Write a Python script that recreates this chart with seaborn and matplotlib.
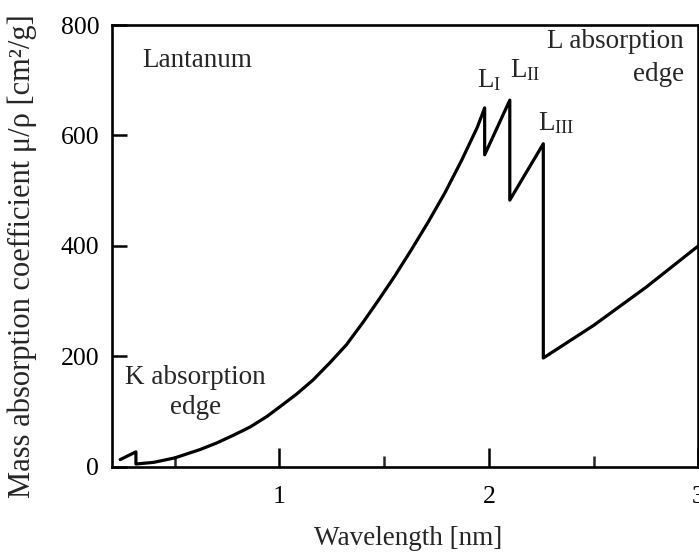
import numpy as np
import pandas as pd
import matplotlib
matplotlib.use("Agg")
import matplotlib.pyplot as plt
import seaborn as sns

# Mass absorption coefficient of lanthanum vs wavelength (K and L edges)
wavelength_nm = [0.24, 0.315, 0.315, 0.40, 0.50, 0.62, 0.70, 0.78, 0.86, 0.94,
                 1.00, 1.08, 1.16, 1.24, 1.32, 1.40, 1.47, 1.55, 1.63, 1.71,
                 1.79, 1.87, 1.945, 1.98, 1.98, 2.10, 2.10, 2.26, 2.26, 2.50,
                 2.75, 3.00]
mu_rho = [13, 27, 5, 8, 16, 31, 43, 57, 72, 91,
          108, 131, 157, 188, 221, 262, 300, 345, 393, 443,
          496, 555, 615, 650, 565, 664, 483, 585, 197, 256,
          325, 400]

x_ticks = [1, 2, 3]
y_ticks = [0, 200, 400, 600, 800]

sns.set_theme(style="ticks")
plt.rcParams["font.family"] = ["Liberation Serif", "DejaVu Serif"]
plt.rcParams["mathtext.fontset"] = "custom"
plt.rcParams["mathtext.rm"] = "Liberation Serif"
plt.rcParams["mathtext.it"] = "Liberation Serif:italic"

df = pd.DataFrame({"wavelength": wavelength_nm, "mu": mu_rho})

fig = plt.figure(figsize=(6.99, 5.57), dpi=100)
ax = fig.add_axes([0.160, 0.162, 0.839, 0.793])

sns.lineplot(data=df, x="wavelength", y="mu", sort=False, estimator=None,
             color="black", linewidth=2.3, ax=ax)

ax.set_xlim(0.2, 3.0)
ax.set_ylim(0, 800)
ax.set_xticks(x_ticks)
ax.set_xticks([0.5, 1.5, 2.5], minor=True)
ax.set_yticks(y_ticks)
ax.tick_params(axis="both", which="major", direction="in", length=11, width=1.8,
               labelsize=18.5, colors="black")
ax.tick_params(axis="x", which="major", pad=14, length=14)
ax.tick_params(axis="y", which="major", pad=9)
ax.tick_params(axis="x", which="minor", direction="in", length=8, width=1.8)
for s in ax.spines.values():
    s.set_linewidth(1.9)
    s.set_color("black")

ax.set_xlabel("Wavelength [nm]", fontsize=19.5)
ax.set_ylabel("Mass absorption coefficient μ/ρ [cm²/g]", fontsize=22)
ax.xaxis.set_label_coords(0.505, -0.135)
ax.yaxis.set_label_coords(-0.127, 0.478)

fs = 19.5
ax.text(0.343, 735, "Lantanum", fontsize=fs, ha="left", va="center")
ax.text(2.93, 770, "L absorption", fontsize=fs, ha="right", va="center")
ax.text(2.93, 711, "edge", fontsize=fs, ha="right", va="center")
ax.text(0.60, 162, "K absorption", fontsize=fs, ha="center", va="center")
ax.text(0.60, 108, "edge", fontsize=fs, ha="center", va="center")

ax.text(1.944, 688, r"L$_{\mathrm{I}}$", fontsize=fs, ha="left", va="baseline")
ax.text(2.102, 706, r"L$_{\mathrm{II}}$", fontsize=fs, ha="left", va="baseline")
ax.text(2.235, 610, r"L$_{\mathrm{III}}$", fontsize=fs, ha="left", va="baseline")

fig.savefig("out.png", dpi=100)
